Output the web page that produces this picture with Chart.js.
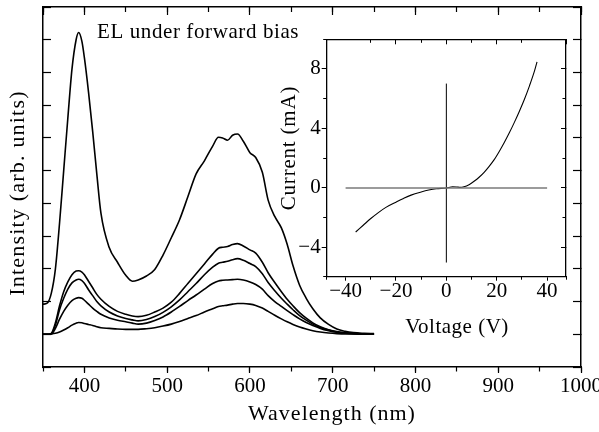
<!DOCTYPE html>
<html>
<head>
<meta charset="utf-8">
<script src="https://cdn.jsdelivr.net/npm/chart.js@4.4.1/dist/chart.umd.min.js"></script>
<style>
  html, body { margin: 0; padding: 0; background: #fff; }
  #wrap { position: relative; width: 599px; height: 432px; }
  #mainChart { position: absolute; left: 0; top: 0; }
  #insetChart { position: absolute; left: 270px; top: 30px; }
</style>
</head>
<body>
<div id="wrap">
  <canvas id="mainChart" width="599" height="432"></canvas>
  <canvas id="insetChart" width="300" height="315"></canvas>
</div>
<script>
// EL spectra (arb. units), one wavelength grid for all five curves
const wavelengths = [350, 355, 360, 365, 370, 375, 380, 385, 390, 393, 397, 400, 405, 410, 415, 420, 430, 440, 450, 458,
    465, 475, 485, 495, 505, 515, 525, 535, 545, 555, 562, 567, 573, 579, 585, 592, 600, 607, 615, 622,
    630, 638, 645, 652, 660, 668, 676, 685, 695, 705, 715, 725, 738, 750];

const spectrum1 = [0.92, 0.95, 1.25, 2.0, 3.4, 5.0, 6.6, 8.1, 9.0, 9.22, 8.95, 8.45, 7.4, 6.2, 4.9, 3.7, 2.65, 2.2, 1.8, 1.62,
    1.66, 1.78, 1.98, 2.42, 2.95, 3.5, 4.2, 4.9, 5.3, 5.75, 6.02, 6.0, 5.93, 6.08, 6.12, 5.9, 5.55, 5.4, 4.95, 4.1,
    3.6, 3.25, 2.75, 2.1, 1.5, 1.1, 0.78, 0.5, 0.3, 0.16, 0.09, 0.05, 0.03, 0.02];
const spectrum2 = [0, 0, 0.03, 0.35, 0.87, 1.3, 1.6, 1.82, 1.93, 1.94, 1.9, 1.82, 1.62, 1.42, 1.22, 1.07, 0.85, 0.7, 0.61, 0.56,
    0.54, 0.58, 0.68, 0.8, 0.98, 1.25, 1.55, 1.85, 2.15, 2.45, 2.63, 2.66, 2.68, 2.74, 2.77, 2.7, 2.58, 2.48, 2.2, 1.88,
    1.58, 1.3, 1.07, 0.87, 0.66, 0.49, 0.35, 0.23, 0.14, 0.08, 0.05, 0.03, 0.01, 0];
const spectrum3 = [0, 0, 0.02, 0.28, 0.75, 1.1, 1.38, 1.57, 1.66, 1.68, 1.64, 1.56, 1.36, 1.18, 1.0, 0.87, 0.68, 0.56, 0.48, 0.44,
    0.41, 0.45, 0.54, 0.67, 0.84, 1.05, 1.3, 1.55, 1.82, 2.05, 2.17, 2.2, 2.23, 2.28, 2.31, 2.26, 2.16, 2.07, 1.85, 1.58,
    1.33, 1.1, 0.92, 0.75, 0.57, 0.43, 0.31, 0.21, 0.13, 0.07, 0.04, 0.02, 0.01, 0];
const spectrum4 = [0, 0, 0.01, 0.18, 0.46, 0.7, 0.89, 1.03, 1.1, 1.12, 1.1, 1.04, 0.92, 0.8, 0.7, 0.61, 0.5, 0.43, 0.38, 0.34,
    0.31, 0.34, 0.42, 0.53, 0.68, 0.85, 1.03, 1.2, 1.38, 1.55, 1.63, 1.65, 1.66, 1.67, 1.68, 1.66, 1.6, 1.52, 1.38, 1.18,
    1.0, 0.85, 0.72, 0.6, 0.47, 0.36, 0.27, 0.18, 0.11, 0.06, 0.03, 0.02, 0.01, 0];
const spectrum5 = [0, 0, 0.01, 0.03, 0.07, 0.13, 0.2, 0.28, 0.34, 0.36, 0.35, 0.33, 0.3, 0.27, 0.23, 0.2, 0.18, 0.16, 0.15, 0.15,
    0.15, 0.17, 0.2, 0.25, 0.31, 0.39, 0.48, 0.57, 0.68, 0.78, 0.85, 0.87, 0.89, 0.92, 0.94, 0.94, 0.92, 0.88, 0.8, 0.7,
    0.58, 0.47, 0.38, 0.3, 0.22, 0.16, 0.11, 0.07, 0.04, 0.02, 0.01, 0.01, 0, 0];

// I-V curve of the device (inset)
const ivVoltage = [-36, -33, -30, -27, -24, -20, -17, -14, -10, -7, -4, 0, 2.5, 4, 5.5, 7, 9, 11, 13, 15,
    17, 19, 21, 23, 25, 27, 29, 31, 33, 35, 36];
const ivCurrent = [-2.95, -2.5, -2.05, -1.65, -1.3, -0.95, -0.7, -0.48, -0.27, -0.14, -0.05, 0, 0.08, 0.07, 0.04, 0.08, 0.22, 0.45, 0.72, 1.05,
    1.45, 1.9, 2.45, 3.05, 3.7, 4.4, 5.15, 5.95, 6.85, 7.85, 8.46];
const zeroLineV = [-40, 40];
const zeroLineI = [0, 0];
const originLineV = [0, 0];
const originLineI = [-5, 7];

const FONT = '"Liberation Serif", "Times New Roman", serif';
Chart.defaults.font.family = FONT;
Chart.defaults.color = '#000';

const toPoints = (xs, ys) => xs.map((x, i) => ({ x: x, y: ys[i] }));
const fmt = (v) => String(v).replace('-', '\u2212');

// fixes the box size of an axis so the plot area lands where the reference has it
const fixSize = (size) => (scale) => {
    if (scale.isHorizontal()) scale.height = size; else scale.width = size;
    scale.paddingLeft = scale.paddingRight = scale.paddingTop = scale.paddingBottom = 0;
};

const makeTextPlugin = (items) => ({
    id: 'freeText',
    afterDraw(chart) {
        const ctx = chart.ctx;
        items.forEach(t => {
            ctx.save();
            ctx.font = t.font;
            ctx.fillStyle = '#000';
            ctx.textAlign = t.align || 'center';
            ctx.textBaseline = 'middle';
            if ('letterSpacing' in ctx) ctx.letterSpacing = t.spacing || '0px';
            ctx.translate(t.x, t.y);
            if (t.rotate) ctx.rotate(t.rotate);
            ctx.fillText(t.text, 0, 0);
            ctx.restore();
        });
    }
});

const tickAxis = (extra) => Object.assign({
    type: 'linear',
    ticks: { display: false },
    border: { display: false },
    grid: { drawOnChartArea: false, color: '#000', tickColor: '#000', tickWidth: 1.2 }
}, extra);

const spectra = [spectrum1, spectrum2, spectrum3, spectrum4, spectrum5];

new Chart(document.getElementById('mainChart'), {
    type: 'scatter',
    data: {
        datasets: spectra.map(s => ({
            data: toPoints(wavelengths, s),
            showLine: true,
            borderColor: '#000',
            borderWidth: 1.6,
            pointRadius: 0,
            cubicInterpolationMode: 'monotone'
        }))
    },
    options: {
        responsive: false,
        animation: false,
        layout: { padding: { top: 7, right: 18, left: 0, bottom: 0 } },
        plugins: { legend: { display: false }, tooltip: { enabled: false } },
        scales: {
            x: {
                type: 'linear', position: 'bottom', min: 350, max: 1000, weight: 1,
                afterFit: fixSize(65),
                ticks: { stepSize: 100, includeBounds: false, maxRotation: 0, minRotation: 0, autoSkip: false,
                    padding: 3, font: { size: 21, lineHeight: 1 }, callback: (v) => fmt(v) },
                border: { display: true, color: '#000', width: 1.5 },
                grid: { drawOnChartArea: false, tickLength: 6, tickColor: '#000', tickWidth: 1.2 }
            },
            xMinor: tickAxis({ axis: 'x', position: 'bottom', min: 350, max: 1000, weight: 0, afterFit: fixSize(0),
                ticks: { display: false, stepSize: 50 },
                grid: { drawOnChartArea: false, tickLength: 4.5, tickColor: '#000', tickWidth: 1.2 } }),
            xTop: tickAxis({ axis: 'x', position: 'top', min: 350, max: 1000, afterFit: fixSize(0),
                ticks: { display: false, stepSize: 100 },
                border: { display: true, color: '#000', width: 1.5 },
                grid: { drawOnChartArea: false, tickLength: -8, tickColor: '#000', tickWidth: 1.2 } }),
            xTopMinor: tickAxis({ axis: 'x', position: 'top', min: 350, max: 1000, afterFit: fixSize(0),
                ticks: { display: false, stepSize: 50 },
                grid: { drawOnChartArea: false, tickLength: -5, tickColor: '#000', tickWidth: 1.2 } }),
            y: tickAxis({ position: 'left', min: -1, max: 10, afterFit: fixSize(43),
                ticks: { display: false, stepSize: 1 },
                border: { display: true, color: '#000', width: 1.5 },
                grid: { drawOnChartArea: false, tickLength: -8, tickColor: '#000', tickWidth: 1.2 } }),
            yRight: tickAxis({ axis: 'y', position: 'right', min: -1, max: 10, afterFit: fixSize(0),
                ticks: { display: false, stepSize: 1 },
                border: { display: true, color: '#000', width: 1.5 },
                grid: { drawOnChartArea: false, tickLength: -8, tickColor: '#000', tickWidth: 1.2 } })
        }
    },
    plugins: [makeTextPlugin([
        { text: 'EL under forward bias', x: 97, y: 32, align: 'left', font: '21px ' + FONT, spacing: '0.6px' },
        { text: 'Wavelength (nm)', x: 332, y: 414, font: '22px ' + FONT, spacing: '1px' },
        { text: 'Intensity (arb. units)', x: 18, y: 193, rotate: -Math.PI / 2, font: '22px ' + FONT, spacing: '1.2px' }
    ])]
});

new Chart(document.getElementById('insetChart'), {
    type: 'scatter',
    data: {
        datasets: [
            { data: toPoints(zeroLineV, zeroLineI), showLine: true, borderColor: '#7a7a7a', borderWidth: 1.6, pointRadius: 0 },
            { data: toPoints(originLineV, originLineI), showLine: true, borderColor: '#000', borderWidth: 1, pointRadius: 0 },
            { data: toPoints(ivVoltage, ivCurrent), showLine: true, borderColor: '#000', borderWidth: 1.1, pointRadius: 0,
                cubicInterpolationMode: 'monotone' }
        ]
    },
    options: {
        responsive: false,
        animation: false,
        layout: { padding: { top: 9.3, right: 4, left: 0, bottom: 0 } },
        plugins: { legend: { display: false }, tooltip: { enabled: false } },
        scales: {
            x: {
                type: 'linear', position: 'bottom', min: -47.5, max: 47.5, weight: 1,
                afterFit: fixSize(68.3),
                ticks: { stepSize: 20, includeBounds: false, maxRotation: 0, minRotation: 0, autoSkip: false,
                    padding: 0, font: { size: 21, lineHeight: 1 }, callback: (v) => fmt(v) },
                border: { display: true, color: '#000', width: 1.3 },
                grid: { drawOnChartArea: false, tickLength: 4, tickColor: '#000', tickWidth: 1 }
            },
            xMinor: tickAxis({ axis: 'x', position: 'bottom', min: -47.5, max: 47.5, weight: 0, afterFit: fixSize(0),
                ticks: { display: false, stepSize: 10 },
                grid: { drawOnChartArea: false, tickLength: 3, tickColor: '#000', tickWidth: 1 } }),
            xTop: tickAxis({ axis: 'x', position: 'top', min: -47.5, max: 47.5, afterFit: fixSize(0),
                ticks: { display: false, stepSize: 20 },
                border: { display: true, color: '#000', width: 1.3 },
                grid: { drawOnChartArea: false, tickLength: -5, tickColor: '#000', tickWidth: 1 } }),
            xTopMinor: tickAxis({ axis: 'x', position: 'top', min: -47.5, max: 47.5, afterFit: fixSize(0),
                ticks: { display: false, stepSize: 10 },
                grid: { drawOnChartArea: false, tickLength: -3.5, tickColor: '#000', tickWidth: 1 } }),
            y: {
                type: 'linear', position: 'left', min: -5.95, max: 9.97, weight: 1,
                afterFit: fixSize(56.7),
                ticks: { stepSize: 4, includeBounds: false, padding: 1, font: { size: 21, lineHeight: 1 },
                    callback: (v) => fmt(v) },
                border: { display: true, color: '#000', width: 1.3 },
                grid: { drawOnChartArea: false, tickLength: 5, tickColor: '#000', tickWidth: 1 }
            },
            yMinor: tickAxis({ axis: 'y', position: 'left', min: -5.95, max: 9.97, weight: 0, afterFit: fixSize(0),
                ticks: { display: false, stepSize: 2 },
                grid: { drawOnChartArea: false, tickLength: 3.5, tickColor: '#000', tickWidth: 1 } }),
            yRight: tickAxis({ axis: 'y', position: 'right', min: -5.95, max: 9.97, afterFit: fixSize(0),
                ticks: { display: false, stepSize: 4 },
                border: { display: true, color: '#000', width: 1.3 },
                grid: { drawOnChartArea: false, tickLength: -5, tickColor: '#000', tickWidth: 1 } }),
            yRightMinor: tickAxis({ axis: 'y', position: 'right', min: -5.95, max: 9.97, afterFit: fixSize(0),
                ticks: { display: false, stepSize: 2 },
                grid: { drawOnChartArea: false, tickLength: -3.5, tickColor: '#000', tickWidth: 1 } })
        }
    },
    plugins: [makeTextPlugin([
        { text: 'Voltage (V)', x: 187, y: 297, font: '21px ' + FONT, spacing: '0.5px' },
        { text: 'Current (mA)', x: 19, y: 118, rotate: -Math.PI / 2, font: '21px ' + FONT, spacing: '0.8px' }
    ])]
});
</script>
</body>
</html>
